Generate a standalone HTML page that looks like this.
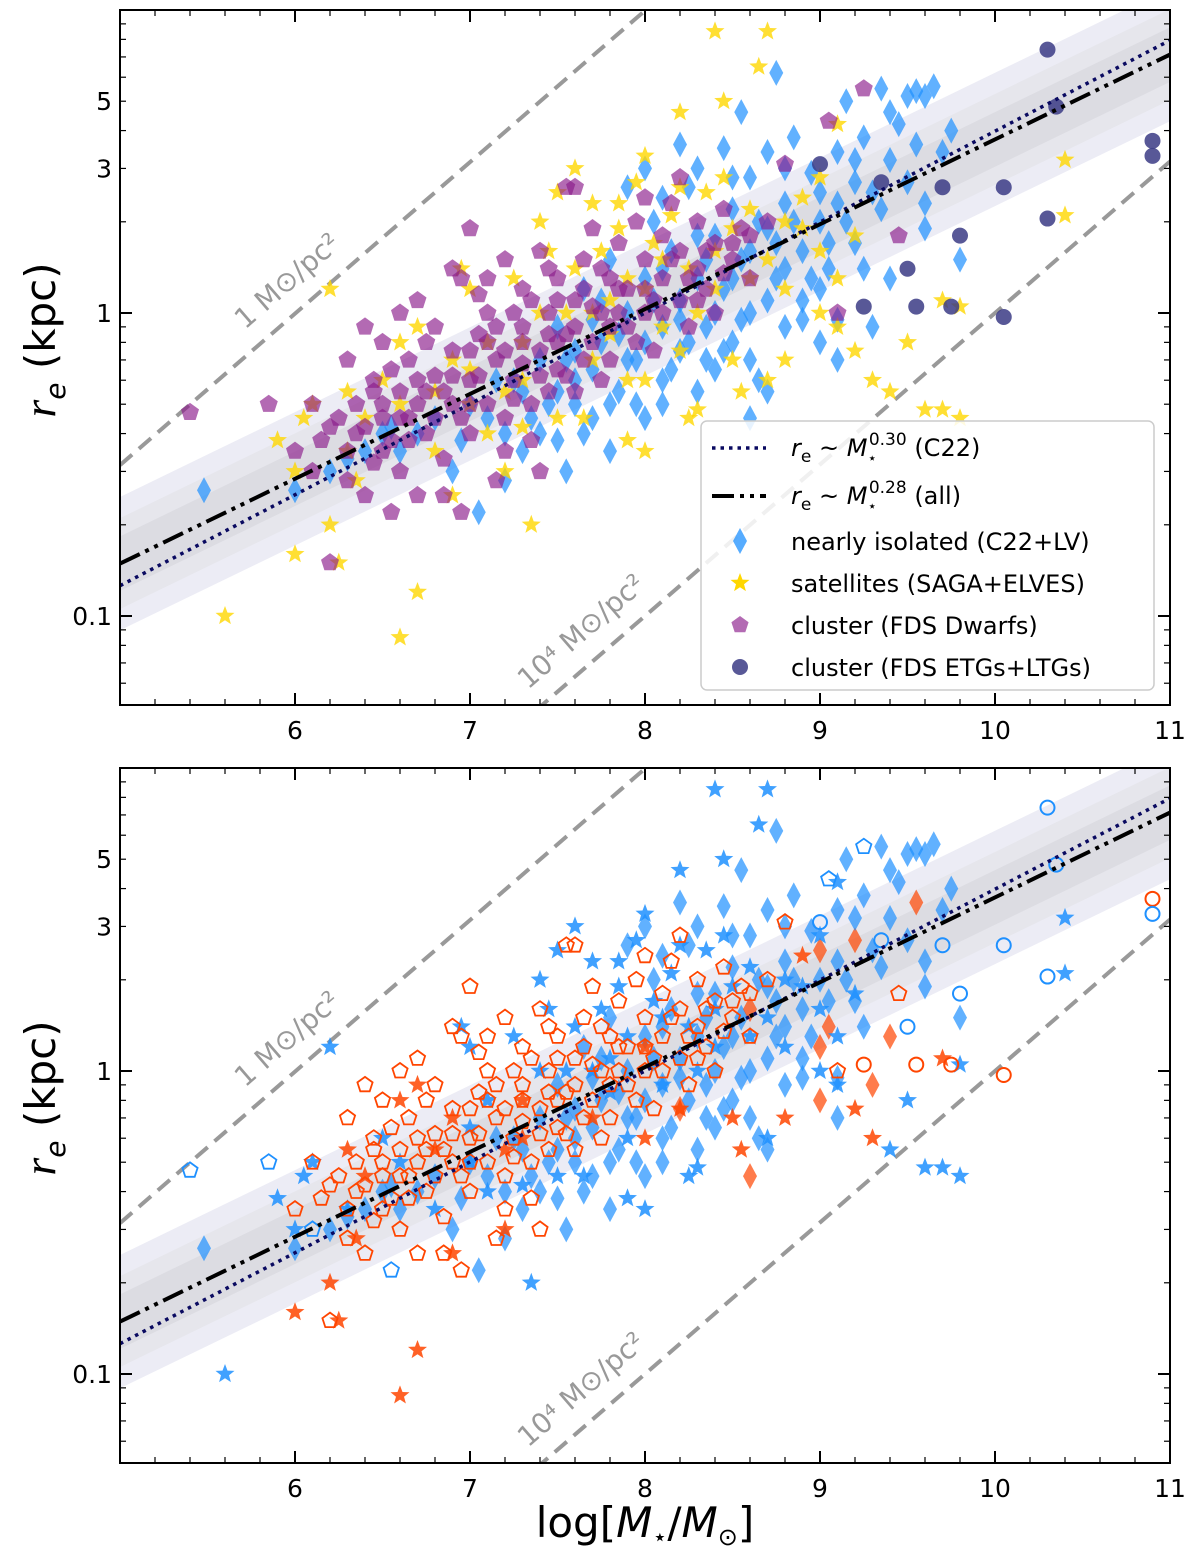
<!DOCTYPE html>
<html><head><meta charset="utf-8"><style>
body{margin:0;background:#fff;overflow:hidden;}
svg{display:block;font-family:"DejaVu Sans","Liberation Sans",sans-serif;}
</style></head><body>
<svg id="chart" width="1200" height="1564" viewBox="0 0 1200 1564" xmlns="http://www.w3.org/2000/svg"></svg>
<script>
const xTicks=[6,7,8,9,10,11];
const yTickLabels=[["5",5],["3",3],["1",1],["0.1",0.1]];
const fitAll=[0.28,1.03];   // slope, r at logM=8
const fitC22=[0.30,1.00];
const isolated=[[5.48,.26],[6.0,.26],[6.3,.33],[6.5,.4],[6.6,.35],[6.9,.3],[7.0,.5],[7.05,.22],[7.2,.4],[7.25,.6],[7.3,.35],[7.4,.7],[7.45,.5],[7.5,.9],[7.55,.3],[7.6,.6],[7.65,1.2],[7.7,.45],[7.75,.8],[7.8,1.5],[7.85,.55],[7.9,1.0],[7.95,.7],[8.0,1.3],[8.0,.45],[8.05,2.0],[8.1,.9],[8.1,.6],[8.15,1.6],[8.2,1.1],[8.2,.75],[8.25,2.6],[8.3,1.3],[8.3,.55],[8.35,.9],[8.4,1.8],[8.4,.65],[8.45,3.5],[8.45,1.2],[8.5,2.2],[8.5,.8],[8.55,1.5],[8.55,4.6],[8.6,1.0],[8.6,2.8],[8.65,.6],[8.7,1.9],[8.7,3.4],[8.75,6.2],[8.75,1.3],[8.8,2.3],[8.8,.9],[8.85,3.8],[8.9,1.6],[8.9,1.1],[8.95,2.9],[9.0,2.0],[9.0,.8],[9.05,1.4],[9.1,3.4],[9.1,2.3],[9.15,5.0],[9.2,1.7],[9.2,2.7],[9.25,3.8],[9.3,.9],[9.35,5.5],[9.35,2.2],[9.4,3.2],[9.45,4.2],[9.5,5.2],[9.55,5.4],[9.6,5.2],[9.6,1.9],[9.65,5.6],[9.7,3.4],[9.75,4.0],[9.8,1.5],[9.4,1.3],[9.0,1.2],[8.2,3.6],[8.0,3.0],[7.9,2.6],[7.8,.35],[7.6,.5],[6.55,.42],[6.8,.45],[9.1,.7],[8.6,.45],[7.7,.95],
[7.1,.45],[7.15,.6],[7.3,.55],[7.35,.45],[7.4,.4],[7.5,.55],[7.5,.38],[7.6,.75],[7.65,.4],[7.7,.65],[7.75,1.1],[7.8,.5],[7.85,.85],[7.9,.7],[7.95,.5],[8.0,.8],[8.05,1.1],[8.1,1.4],[8.1,.5],[8.15,.65],[8.2,.95],[8.25,.8],[8.3,1.8],[8.35,.7],[8.35,1.5],[8.4,1.0],[8.45,.75],[8.5,1.3],[8.5,2.8],[8.55,.95],[8.6,1.6],[8.6,.7],[8.65,2.0],[8.7,1.1],[8.7,.55],[8.75,1.7],[8.8,3.0],[8.8,1.4],[8.85,2.0],[8.9,.95],[8.95,1.3],[9.0,2.5],[9.05,1.7],[9.1,.95],[9.15,2.0],[9.2,3.2],[9.25,1.4],[9.3,2.5],[9.4,4.6],[9.5,2.7],[9.55,3.6],[9.6,2.3],[8.3,3.0],[8.1,2.4],[7.55,.7],[6.2,.3],[6.4,.35],[6.7,.4],[6.95,.38],[7.2,.28]];
const isolatedRed=[58,65,78,88,79,57,30,63,120,131,140];
const satellites=[[5.6,.1],[6.0,.16],[6.0,.3],[5.9,.38],[6.05,.45],[6.1,.5],[6.2,1.2],[6.2,.2],[6.25,.15],[6.3,.35],[6.35,.28],[6.5,.6],[6.6,.085],[6.7,.12],[6.7,.9],[6.8,.35],[6.9,.7],[6.95,1.4],[7.0,.5],[7.1,.8],[7.2,.3],[7.25,1.3],[7.3,.6],[7.35,.2],[7.4,2.0],[7.5,2.5],[7.55,1.0],[7.6,3.0],[7.65,.45],[7.7,.7],[7.75,1.6],[7.8,1.1],[7.85,2.3],[7.9,.38],[7.9,1.3],[7.95,2.7],[8.0,.6],[8.05,1.7],[8.1,.9],[8.15,2.1],[8.2,.75],[8.25,1.4],[8.3,.48],[8.35,2.5],[8.4,1.2],[8.45,5.0],[8.5,1.9],[8.55,.55],[8.6,2.2],[8.65,6.5],[8.7,8.5],[8.7,1.5],[8.8,.7],[8.9,1.9],[9.0,1.0],[9.1,1.3],[9.2,.75],[9.3,.6],[9.5,.8],[9.7,1.1],[9.8,1.05],[9.6,.48],[9.7,.48],[9.8,.45],[10.4,3.2],[10.4,2.1],[8.4,8.5],[8.2,4.6],[8.0,3.3],[7.7,2.3],[7.4,1.0],[7.0,1.2],[6.6,.8],[6.9,.25],[7.2,.55],[8.0,.35],[8.8,1.2],[9.0,2.8],[9.1,4.2],[7.3,.42],
[6.4,.45],[6.6,.5],[6.8,.55],[7.0,.65],[7.1,.4],[7.3,.8],[7.45,1.6],[7.5,.45],[7.6,1.4],[7.7,1.0],[7.8,.85],[7.85,1.9],[8.0,1.2],[8.1,1.5],[8.2,2.6],[8.3,1.0],[8.4,1.6],[8.5,.7],[8.6,1.3],[8.7,.6],[8.9,2.4],[9.0,1.6],[9.2,1.8],[9.4,.55],[6.3,.55],[7.9,.6],[8.25,.45],[8.45,2.8],[8.8,2.0],[9.1,.9]];
const satellitesRed=[1,7,8,10,12,13,14,16,20,22,29,36,40,47,52,56,57,59,72,73,74,80,82,85,92,97,100,104];
const dwarfs=[[5.4,.47],[5.85,.5],[6.2,.15],[6.1,.3],[6.2,.42],[6.3,.35],[6.35,.5],[6.4,.25],[6.45,.6],[6.5,.45],[6.5,.8],[6.55,.38],[6.6,.55],[6.6,.3],[6.65,.7],[6.7,.5],[6.7,1.1],[6.75,.4],[6.8,.62],[6.8,.9],[6.85,.33],[6.9,.5],[6.9,.75],[6.95,1.3],[7.0,.4],[7.0,.6],[7.05,.85],[7.1,1.0],[7.1,.5],[7.15,.7],[7.2,1.5],[7.2,.35],[7.25,.6],[7.3,.9],[7.3,1.2],[7.35,.5],[7.4,.75],[7.4,1.6],[7.45,1.0],[7.5,.65],[7.5,1.3],[7.55,.85],[7.55,2.6],[7.6,1.1],[7.6,.55],[7.65,1.5],[7.7,.8],[7.7,1.9],[7.75,1.0],[7.8,.7],[7.8,1.3],[7.85,1.7],[7.9,.9],[7.9,1.2],[7.95,2.0],[8.0,1.0],[8.0,1.5],[8.05,.75],[8.1,1.3],[8.1,1.8],[8.15,2.3],[8.2,1.1],[8.2,1.6],[8.25,.9],[8.3,1.4],[8.3,2.0],[8.35,1.2],[8.4,1.7],[8.45,2.2],[8.5,1.5],[8.55,1.9],[8.6,1.3],[8.7,2.0],[8.8,3.1],[9.1,1.0],[9.25,5.5],[9.45,1.8],[9.05,4.3],[6.1,.5],[6.3,.7],[6.6,1.0],[6.9,1.4],[7.0,1.9],[7.6,2.6],[8.0,2.4],[8.2,2.8],[6.4,.9],[7.2,.45],[7.4,.3],[6.85,.25],[6.7,.25],[7.35,.38],[7.15,.28],[6.95,.22],[6.55,.22],[6.45,.55],[7.05,1.15],[7.45,1.4],[7.65,1.2],[7.85,1.0],[8.05,1.1],[8.25,1.3],[8.4,1.0],[8.5,1.7],[7.3,.68],[7.55,.62],[7.75,.6],
[6.0,.35],[6.15,.38],[6.25,.45],[6.3,.28],[6.4,.42],[6.45,.32],[6.5,.35],[6.55,.65],[6.6,.45],[6.65,.38],[6.7,.6],[6.75,.8],[6.8,.45],[6.85,.55],[6.9,.62],[6.95,.45],[7.0,.75],[7.0,.5],[7.05,.62],[7.1,.8],[7.1,1.3],[7.15,.9],[7.2,.75],[7.25,1.0],[7.3,.8],[7.35,1.1],[7.4,.62],[7.45,.85],[7.5,1.1],[7.5,.8],[7.6,.9],[7.65,.7],[7.7,1.05],[7.75,1.4],[7.8,.9],[7.85,1.2],[7.95,.8],[8.0,1.2],[8.1,1.0],[8.15,1.5],[8.3,1.1],[8.35,1.6],[8.45,1.35],[8.6,1.8],[6.65,.45],[6.35,.4],[6.75,.55],[7.25,.52],[7.45,.55],[6.5,.5]];
const dwarfsBlue=[0,1,3,75,77,94];
const giants=[[9.0,3.1],[9.25,1.05],[9.5,1.4],[9.55,1.05],[9.75,1.05],[9.7,2.6],[9.8,1.8],[10.05,.97],[10.05,2.6],[10.3,2.05],[10.3,7.4],[10.35,4.8],[10.9,3.7],[10.9,3.3],[9.35,2.7]];
const giantsRed=[1,3,4,7,12];

const NS="http://www.w3.org/2000/svg";
const svg=document.getElementById('chart');
function el(tag,attrs,parent){const e=document.createElementNS(NS,tag);for(const k in attrs)e.setAttribute(k,attrs[k]);(parent||svg).appendChild(e);return e;}
const X0=120,X1=1170;
const xs=v=>X0+(v-5)*(X1-X0)/6;
function makeY(top){const y1=top+303; return r=>y1-303*Math.log10(r);}
const BLUE="#1e90ff",RED="#ff4500";

function star(cx,cy,R){let p=[];for(let i=0;i<10;i++){const a=-Math.PI/2+i*Math.PI/5;const rr=i%2?R*0.42:R;p.push((cx+rr*Math.cos(a)).toFixed(1)+","+(cy+rr*Math.sin(a)).toFixed(1));}return p.join(" ");}
function pent(cx,cy,R){let p=[];for(let i=0;i<5;i++){const a=-Math.PI/2+i*2*Math.PI/5;p.push((cx+R*Math.cos(a)).toFixed(1)+","+(cy+R*Math.sin(a)).toFixed(1));}return p.join(" ");}
function diam(cx,cy){return `${cx},${cy-13} ${cx+7},${cy} ${cx},${cy+13} ${cx-7},${cy}`;}

function panel(top,name,bottomMode){
  const bot=top+695, ys=makeY(top);
  const g=el('g',{});
  
  
  const clipId='clip'+top;
  const cp=el('clipPath',{id:clipId},g);el('rect',{x:X0,y:top,width:X1-X0,height:695},cp);
  const pg=el('g',{'clip-path':`url(#${clipId})`},g);
  const fitR=(f,x)=>f[1]*Math.pow(10,f[0]*(x-8));
  [[0.22,'#ececf5'],[0.15,'#e6e6ec'],[0.09,'#dcdce2']].forEach(([w,c],i)=>{
    const pts=[];for(let x=5;x<=11.001;x+=0.5)pts.push(xs(x)+","+ys(fitR(fitAll,x)*Math.pow(10,w)));
    for(let x=11;x>=4.999;x-=0.5)pts.push(xs(x)+","+ys(fitR(fitAll,x)*Math.pow(10,-w)));
    const b=el('polygon',{points:pts.join(" "),fill:c},pg);
    
    
  });
  [[-0.502,'1-msun-pc2-line'],[-2.5,'1e4-msun-pc2-line']].forEach(([c,n])=>{
    const l=el('line',{x1:xs(5),y1:ys(Math.pow(10,c)),x2:xs(11),y2:ys(Math.pow(10,c+3)),stroke:'#999',"stroke-width":4,"stroke-dasharray":"16,9"},pg);
    
    
  });
  const t1=el('text',{x:0,y:0,fill:'#999','font-size':28,transform:`translate(245,${top+320}) rotate(-41)`},g);
  t1.textContent="1 M\u2299/pc\u00b2";
  
  
  const t2=el('text',{x:0,y:0,fill:'#999','font-size':28,transform:`translate(528,${top+680}) rotate(-41)`},g);
  t2.textContent="10\u2074 M\u2299/pc\u00b2";
  
  
  const m=el('g',{},pg);
  isolated.forEach((d,i)=>{const red=bottomMode&&isolatedRed.includes(i);
    const p=el('polygon',{points:diam(xs(d[0]),ys(d[1])),fill:red?RED:BLUE,'fill-opacity':0.7},m);
    
    });
  satellites.forEach((d,i)=>{const red=bottomMode&&satellitesRed.includes(i);
    const p=el('polygon',{points:star(xs(d[0]),ys(d[1]),10),fill:bottomMode?(red?RED:BLUE):'#ffd700','fill-opacity':bottomMode?0.85:0.8},m);
    
    });
  dwarfs.forEach((d,i)=>{const blue=dwarfsBlue.includes(i);
    const a=bottomMode?{fill:'none',stroke:blue?BLUE:RED,'stroke-width':1.8}:{fill:'#8b1a8b','fill-opacity':0.65};
    a.points=pent(xs(d[0]),ys(d[1]),bottomMode?8:9.5);
    const p=el('polygon',a,m);
    
    });
  giants.forEach((d,i)=>{const red=giantsRed.includes(i);
    const a=bottomMode?{fill:'none',stroke:red?RED:BLUE,'stroke-width':2}:{fill:'#3b3b85','fill-opacity':0.85};
    a.cx=xs(d[0]);a.cy=ys(d[1]);a.r=bottomMode?7:8;
    const p=el('circle',a,m);
    
    });
  const f1=el('line',{x1:xs(5),y1:ys(fitR(fitC22,5)),x2:xs(11),y2:ys(fitR(fitC22,11)),stroke:'#0a0a60','stroke-width':3.5,'stroke-dasharray':'3.5,5'},pg);
  
  
  const f2=el('line',{x1:xs(5),y1:ys(fitR(fitAll,5)),x2:xs(11),y2:ys(fitR(fitAll,11)),stroke:'#000','stroke-width':4,'stroke-dasharray':'22,6,4,6,4,6'},pg);
  
  
  el('rect',{x:X0,y:top,width:X1-X0,height:695,fill:'none',stroke:'#000','stroke-width':2},g);
  for(let v=5;v<=11.001;v+=0.2){const major=Math.abs(v-Math.round(v))<0.01;const L=major?12:6;const x=xs(v);
    el('line',{x1:x,y1:bot,x2:x,y2:bot-L,stroke:'#000','stroke-width':major?2:1.2},g);
    el('line',{x1:x,y1:top,x2:x,y2:top+L,stroke:'#000','stroke-width':major?2:1.2},g);}
  xTicks.forEach(v=>{const t=el('text',{x:xs(v),y:bot+34,'text-anchor':'middle','font-size':25},g);t.textContent=v;
    
    });
  for(let k=-2;k<=0;k++)for(let j=1;j<=9;j++){const r=j*Math.pow(10,k);const y=ys(r);if(y<top||y>bot)continue;const major=j==1;const L=major?12:6;
    el('line',{x1:X0,y1:y,x2:X0+L,y2:y,stroke:'#000','stroke-width':major?2:1.2},g);
    el('line',{x1:X1,y1:y,x2:X1-L,y2:y,stroke:'#000','stroke-width':major?2:1.2},g);}
  yTickLabels.forEach(([s,v])=>{const t=el('text',{x:X0-8,y:ys(v)+9,'text-anchor':'end','font-size':25},g);t.textContent=s;
    
    });
  const yl=el('text',{x:0,y:0,'font-size':42,'text-anchor':'middle',transform:`translate(55,${top+330}) rotate(-90)`},g);
  yl.innerHTML='<tspan font-style="italic" font-family="Liberation Serif, serif" font-size="46">r</tspan><tspan font-style="italic" font-size="28" dy="10">e</tspan><tspan dy="-10"> (kpc)</tspan>';
  
  
  return g;
}
panel(10,'top-panel',false);
panel(768,'bottom-panel',true);

const lg=el('g',{});


el('rect',{x:701,y:421,width:453,height:269,rx:6,fill:'#fff','fill-opacity':0.85,stroke:'#ccc','stroke-width':1.5},lg);
el('line',{x1:712,y1:448,x2:766,y2:448,stroke:'#0a0a60','stroke-width':3.5,'stroke-dasharray':'3.5,5'},lg);
el('line',{x1:712,y1:496,x2:766,y2:496,stroke:'#000','stroke-width':4,'stroke-dasharray':'22,6,4,6,4,6'},lg);
el('polygon',{points:diam(740,541),fill:BLUE,'fill-opacity':.75},lg);
el('polygon',{points:star(740,583,10),fill:'#ffd700'},lg);
el('polygon',{points:pent(740,625,9),fill:'#8b1a8b','fill-opacity':.65},lg);
el('circle',{cx:740,cy:667,r:8,fill:'#3b3b85','fill-opacity':.85},lg);
const legTexts=[
 ['<tspan font-style="italic">r</tspan><tspan font-size="17" dy="6">e</tspan><tspan dy="-6"> ~ </tspan><tspan font-style="italic">M</tspan><tspan font-size="15" dy="7">\u22c6</tspan><tspan font-size="17" dy="-18" dx="-8">0.30</tspan><tspan dy="11"> (C22)</tspan>',456,'legend-entry-c22'],
 ['<tspan font-style="italic">r</tspan><tspan font-size="17" dy="6">e</tspan><tspan dy="-6"> ~ </tspan><tspan font-style="italic">M</tspan><tspan font-size="15" dy="7">\u22c6</tspan><tspan font-size="17" dy="-18" dx="-8">0.28</tspan><tspan dy="11"> (all)</tspan>',504,'legend-entry-all'],
 ['nearly isolated (C22+LV)',550,'legend-entry-isolated'],
 ['satellites (SAGA+ELVES)',592,'legend-entry-satellites'],
 ['cluster (FDS Dwarfs)',634,'legend-entry-dwarfs'],
 ['cluster (FDS ETGs+LTGs)',676,'legend-entry-giants']];
legTexts.forEach(([h,y,n])=>{const t=el('text',{x:791,y:y,'font-size':24},lg);t.innerHTML=h;
  
  });

const xl=el('text',{x:645,y:1537,'font-size':42,'text-anchor':'middle'});
xl.innerHTML='log[<tspan font-style="italic">M</tspan><tspan font-size="24" dy="8">\u22c6</tspan><tspan dy="-8">/</tspan><tspan font-style="italic">M</tspan><tspan font-size="24" dy="8">\u2299</tspan><tspan dy="-8">]</tspan>';


</script>
</body></html>
